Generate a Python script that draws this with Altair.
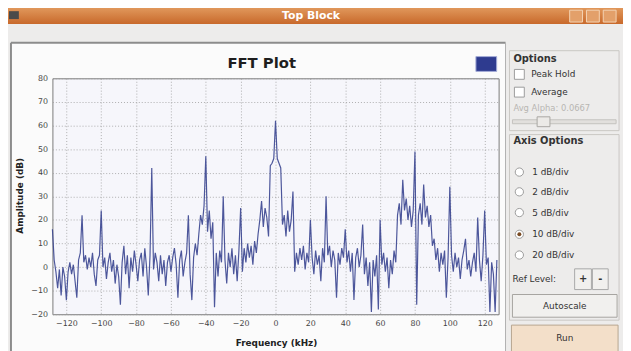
import altair as alt
import pandas as pd

# ---------------- data ----------------
FREQ_KHZ = list(range(-128, 128))
AMP_DB = [
    16, 3, -2, -9, -1, -12, 0, -4, -14, -2,        # -128..-119
    2, -3, 1, -6, -13, 3, 6, 22, 2, 5,             # -118..-109
    -1, 4, 0, 6, -3, -8, 3, 5, 24, 0,              # -108..-99
    4, -5, 2, 6, -2, 3, -7, 1, -4, -16,            # -98..-89
    2, 9, -3, 5, -9, 4, -2, 7, 1, -6,              # -88..-79
    3, 6, -4, 8, 0, -12, 5, 42, -1, 6,             # -78..-69
    2, -6, 5, -3, 3, -8, 2, 5, -2, 4,              # -68..-59
    8, 1, -13, 3, 7, -4, 2, 6, 22, -3,             # -58..-49
    -14, 4, 10, 5, 14, 22, 18, 26, 47, 15,         # -48..-39
    24, 12, 19, -17, 6, -4, 7, 2, 30, 3,           # -38..-29
    -7, 6, 0, 8, -3, 5, -6, 7, 25, -2,             # -28..-19
    8, 2, 10, 4, 9, 1, 11, 6, 14, 20,              # -18..-9
    28, 17, 25, 21, 13, 43, 44, 46, 62, 46,        # -8..1
    44, 42, 18, 22, 13, 24, 15, 20, 32, -2,        # 2..11
    6, 1, 8, 3, 9, -1, 6, 2, 20, 4,                # 12..21
    -3, 7, 1, 5, -6, 8, 2, 30, 5, 9,               # 22..31
    0, 7, 3, -13, 6, 1, 8, 4, 16, 2,               # 32..41
    7, -2, 6, -14, 4, 8, 0, 5, 18, -3,             # 42..51
    4, -8, 2, -19, 3, -4, 5, -18, 20, 1,           # 52..61
    6, -2, 4, -9, 3, -3, 7, 2, 22, 27,             # 62..71
    18, 37, 24, 29, 20, 26, 17, 24, 49, -16,       # 72..81
    22, 27, 18, 35, 21, 26, 17, 22, 9, 12,         # 82..91
    3, 8, -2, 6, 1, 7, -13, 4, 34, 5,              # 92..101
    -2, 6, 0, 4, -5, 3, 7, 12, -1, 3,              # 102..111
    -4, 2, 6, -2, 21, 3, -6, 5, 24, 1,             # 112..121
    4, -19, 2, -3, -19, 3,                         # 122..127
]
X_TICKS = [-120, -100, -80, -60, -40, -20, 0, 20, 40, 60, 80, 100, 120]
Y_TICKS = [-20, -10, 0, 10, 20, 30, 40, 50, 60, 70, 80]
RADIO_LABELS = ["1 dB/div", "2 dB/div", "5 dB/div", "10 dB/div", "20 dB/div"]
RADIO_SELECTED = "10 dB/div"

df = pd.DataFrame({"freq": FREQ_KHZ, "amp": AMP_DB})

# ---------------- layout helpers (page pixel -> plot-area pixel) ----------------
PX, PY = 53, 77          # page position of plot-area origin
FONT = "DejaVu Sans"
dummy = alt.Chart(pd.DataFrame({"d": [0]}))


def rect(x1, y1, x2, y2, **kw):
    return dummy.mark_rect(**kw).encode(
        x=alt.value(x1 - PX), x2=alt.value(x2 - PX),
        y=alt.value(y1 - PY), y2=alt.value(y2 - PY))


def text(x, y, s, size=9, bold=False, color="#333333", align="left", angle=0):
    kw = dict(text=s, font=FONT, fontSize=size, color=color, align=align,
              baseline="middle", fontWeight="bold" if bold else "normal")
    if angle:
        kw["angle"] = angle
    return dummy.mark_text(**kw).encode(x=alt.value(x - PX), y=alt.value(y - PY))


def hrule(x1, x2, y, color, w=1):
    return dummy.mark_rule(color=color, strokeWidth=w).encode(
        x=alt.value(x1 - PX), x2=alt.value(x2 - PX), y=alt.value(y - PY))


def vrule(x, y1, y2, color, w=1):
    return dummy.mark_rule(color=color, strokeWidth=w).encode(
        x=alt.value(x - PX), y=alt.value(y1 - PY), y2=alt.value(y2 - PY))


GUI_BG = "#edeceb"
layers = []

# window chrome
layers.append(rect(512, 0, 640, 360, fill=GUI_BG))
layers.append(rect(0, 0, 640, 41, fill=GUI_BG))
layers.append(rect(0, 0, 11, 360, fill=GUI_BG))
title_grad = alt.Gradient(
    gradient="linear",
    stops=[alt.GradientStop(color="#e6a266", offset=0),
           alt.GradientStop(color="#c8692b", offset=1)],
    x1=0, x2=0, y1=0, y2=1)
layers.append(rect(0, 2, 640, 22, fill=title_grad))
layers.append(text(315, 14, "Top Block", size=11, bold=True, color="#ffffff", align="center"))
layers.append(rect(9, 9, 19, 17, fill="#4a4a4a"))
for bx in (577, 594, 611):
    layers.append(rect(bx, 8, bx + 13, 20, fill="#e3a06a", stroke="#f4d3b4", strokeWidth=1))

# plot panel border
layers.append(hrule(11, 512, 41, "#8c8c8c", 2))
layers.append(vrule(11, 41, 360, "#8c8c8c", 2))
layers.append(vrule(512, 41, 360, "#b0b0b0", 1))

# plot title, legend box, axis titles
layers.append(text(265, 62, "FFT Plot", size=15, bold=True, color="#1e1e1e", align="center"))
layers.append(rect(482, 55, 503, 70, fill="#2e3b8f", stroke="#a3abd6", strokeWidth=1))
layers.append(text(20, 196, "Amplitude (dB)", size=9, bold=True, color="#222222",
                   align="center", angle=270))
layers.append(text(280, 345, "Frequency (kHz)", size=9, bold=True, color="#222222",
                   align="center"))

# sidebar: Options
layers.append(rect(516, 49, 627, 130, filled=False, stroke="#c9c7c3", strokeWidth=1))
layers.append(text(520, 57, "Options", size=10, bold=True))
layers.append(rect(521, 68, 531, 78, fill="#ffffff", stroke="#9b9b9b", strokeWidth=1))
layers.append(text(538, 73, "Peak Hold"))
layers.append(rect(521, 86, 531, 96, fill="#ffffff", stroke="#9b9b9b", strokeWidth=1))
layers.append(text(538, 91, "Average"))
layers.append(text(520, 107, "Avg Alpha: 0.0667", size=8.5, color="#b8b6b2"))
layers.append(rect(519, 119, 624, 123, fill="#e2e0dd", stroke="#c4c2be", strokeWidth=1))
layers.append(rect(544, 116, 557, 126, fill="#eceae7", stroke="#a9a7a3", strokeWidth=1))

# sidebar: Axis Options
layers.append(rect(516, 134, 627, 322, filled=False, stroke="#c9c7c3", strokeWidth=1))
layers.append(text(520, 141, "Axis Options", size=10, bold=True))
RADIO_Y = [172, 192, 213, 235, 256]
for lab, ry in zip(RADIO_LABELS, RADIO_Y):
    layers.append(dummy.mark_point(shape="circle", size=70, filled=True, fill="#ffffff",
                                   stroke="#9a9a9a", strokeWidth=1, opacity=1)
                  .encode(x=alt.value(526 - PX), y=alt.value(ry - PY)))
    if lab == RADIO_SELECTED:
        layers.append(dummy.mark_point(shape="circle", size=16, filled=True,
                                       color="#7a4c24", opacity=1)
                      .encode(x=alt.value(526 - PX), y=alt.value(ry - PY)))
    layers.append(text(539, ry, lab))

layers.append(text(519, 280, "Ref Level:"))
layers.append(rect(582, 270, 599, 291, fill="#f1f0ee", stroke="#a8a8a8", strokeWidth=1))
layers.append(text(590.5, 280, "+", size=10, bold=True, align="center"))
layers.append(rect(600, 270, 616, 291, fill="#f1f0ee", stroke="#a8a8a8", strokeWidth=1))
layers.append(text(608, 280, "-", size=10, bold=True, align="center"))
layers.append(rect(519, 296, 625, 319, fill="#f1f0ee", stroke="#a6a4a0", strokeWidth=1))
layers.append(text(572, 308, "Autoscale", align="center"))
layers.append(rect(518, 327, 626, 360, fill="#f3dfc9", stroke="#b7a690", strokeWidth=1))
layers.append(text(572, 340, "Run", align="center"))

# ---------------- the FFT trace ----------------
x_enc = alt.X("freq:Q", scale=alt.Scale(domain=[-128, 128], nice=False, zero=False),
              axis=alt.Axis(values=X_TICKS, title=None, grid=True, ticks=False, domain=False,
                            labelFlush=False, labelPadding=5, labelFontSize=8,
                            labelColor="#444444", labelFont=FONT,
                            gridColor="#9c9c9c", gridDash=[1, 2], gridOpacity=0.8))
y_enc = alt.Y("amp:Q", scale=alt.Scale(domain=[-20, 80], nice=False, zero=False),
              axis=alt.Axis(values=Y_TICKS, title=None, grid=True, ticks=False, domain=False,
                            labelFlush=False, labelPadding=5, labelFontSize=8,
                            labelColor="#444444", labelFont=FONT,
                            gridColor="#9c9c9c", gridDash=[1, 2], gridOpacity=0.8))

trace = alt.Chart(df).mark_line(color="#3a4590", strokeWidth=1.2, opacity=0.9).encode(
    x=x_enc, y=y_enc)

chart = alt.layer(*layers, trace).properties(
    width=452, height=239,
    autosize=alt.AutoSizeParams(type="none"),
    padding={"left": 45, "top": 69, "right": 126, "bottom": 35},
    background="#fbfbfb",
).configure_view(stroke="#7a7a7a", strokeWidth=1, fill="#f6f6fb")

chart.save("out.html", embed_options={"renderer": "svg", "actions": False})
